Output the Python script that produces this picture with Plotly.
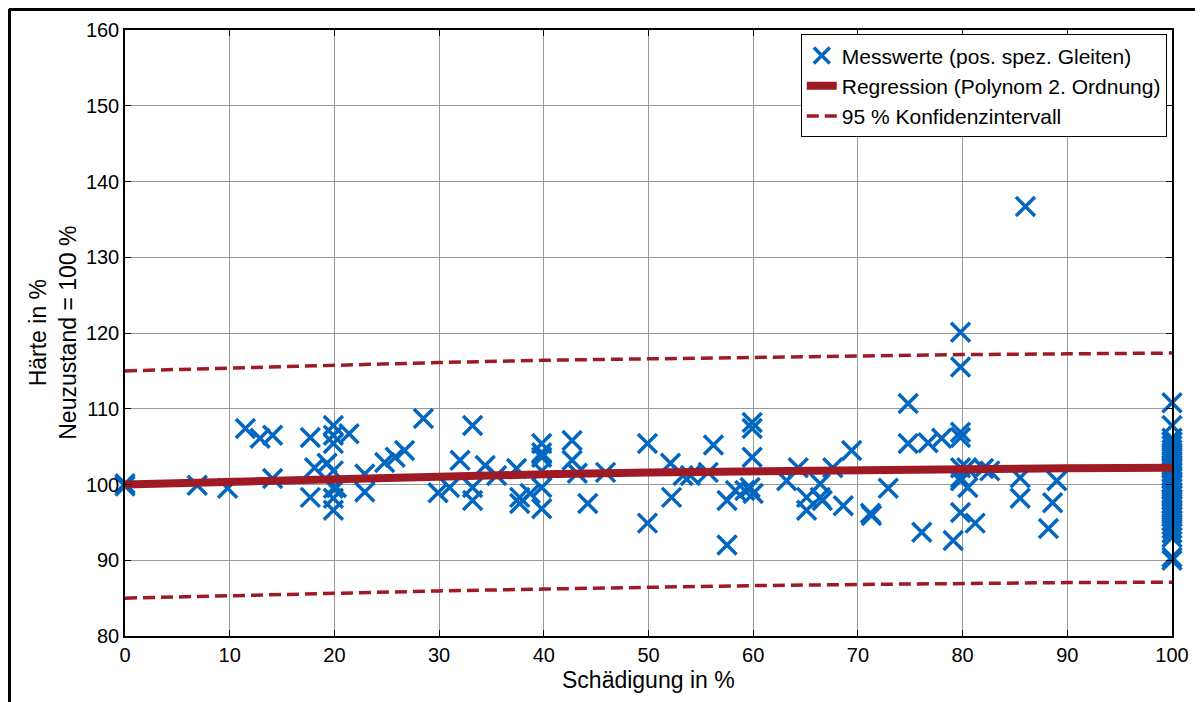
import plotly.graph_objects as go

# ---------------- data ----------------
meas_x = [0, 0, 6.9, 9.8, 11.5, 12.9, 14.1, 14.1, 17.7, 17.7, 18.1, 19.3, 19.9, 19.9, 19.9,
          19.9, 19.9, 19.9, 19.9, 20.2, 21.4, 22.9, 22.9, 24.8, 25.8, 26.7, 28.5,
          29.9, 31.0, 32.0, 33.2, 33.2, 33.2, 34.4, 35.5, 37.4, 37.7, 37.7, 38.7,
          39.8, 39.8, 39.8, 39.8, 39.8, 39.8, 42.7, 42.7, 43.2, 44.2, 45.9,
          49.9, 49.9, 52.1, 52.2, 53.3, 54.0, 55.7, 56.2, 57.5, 57.5, 58.3,
          59.9, 59.9, 59.9, 59.7, 60.0, 59.2,
          63.2, 64.3, 65.1, 65.1, 66.4, 66.4, 66.6, 67.6, 68.6, 69.4, 71.2, 71.3,
          72.9, 74.8, 74.8, 76.1, 76.7, 78.0, 79.1, 79.8, 79.8, 79.8, 79.8, 79.8,
          79.8, 79.8, 80.4, 80.5, 79.8, 81.2, 82.0, 82.6, 85.5, 85.5, 86.0, 88.2,
          88.6, 89.0]
meas_y = [100.1, 99.8, 99.9, 99.5, 107.4, 106.1, 106.5, 100.8, 106.2, 98.3, 102.2, 102.8, 107.8, 106.5, 105.4,
          101.8, 99.5, 98.2, 96.6, 99.6, 106.7, 101.4, 99.0, 102.9, 103.6, 104.5, 108.7,
          98.9, 99.6, 103.2, 107.8, 99.6, 97.9, 102.5, 101.2, 102.1, 98.3, 97.5, 98.8,
          105.4, 104.2, 103.6, 101.8, 99.6, 96.8, 105.8, 103.2, 101.5, 97.5, 101.6,
          105.4, 94.9, 102.8, 98.3, 101.2, 101.2, 101.6, 105.2, 92.0, 97.9, 99.2,
          108.2, 107.4, 103.6, 99.6, 98.8, 99.2,
          100.5, 102.2, 98.3, 96.6, 100.1, 98.3, 97.9, 102.2, 97.2, 104.5, 96.2, 95.9,
          99.5, 110.7, 105.4, 93.7, 105.5, 106.1, 92.6, 120.1, 115.5, 106.9, 106.2, 102.2,
          100.9, 100.5, 102.2, 99.6, 96.3, 94.9, 102.1, 101.8, 100.9, 98.2, 136.7, 94.2,
          97.6, 100.5]
# column at 100 % damage
meas100_y = [110.8, 107.8, 106.1, 105.6, 105.1, 104.6, 104.2, 103.7, 103.1, 102.6, 102.2,
             101.7, 101.2, 100.8, 100.3, 99.9, 99.4, 98.9, 98.5, 98.0, 97.5, 97.1, 96.6,
             96.1, 95.7, 95.2, 94.7, 94.2, 93.6, 93.0, 90.4, 90.0]

curve_x = [0, 10, 20, 30, 40, 50, 60, 70, 80, 90, 100]
reg_y = [100.0, 100.4, 100.8, 101.1, 101.35, 101.6, 101.8, 101.95, 102.05, 102.15, 102.2]
upper_y = [115.0, 115.4, 115.8, 116.1, 116.4, 116.6, 116.85, 117.0, 117.15, 117.25, 117.35]
lower_y = [85.0, 85.35, 85.7, 85.95, 86.2, 86.45, 86.65, 86.8, 86.95, 87.05, 87.1]

x_ticks = [0, 10, 20, 30, 40, 50, 60, 70, 80, 90, 100]
y_ticks = [80, 90, 100, 110, 120, 130, 140, 150, 160]

BLUE = "#0066C0"
RED = "#9E1A24"
FONT = "Liberation Sans, Arial, sans-serif"

all_x = meas_x + [100] * len(meas100_y)
all_y = meas_y + meas100_y

fig = go.Figure()
fig.add_trace(go.Scatter(
    x=all_x, y=all_y, mode="markers", name="Messwerte (pos. spez. Gleiten)",
    marker=dict(symbol="x-thin", size=19, color=BLUE, line=dict(color=BLUE, width=3.5)),
    cliponaxis=False))
fig.add_trace(go.Scatter(
    x=curve_x, y=reg_y, mode="lines", name="Regression (Polynom 2. Ordnung)",
    line=dict(color=RED, width=8)))
fig.add_trace(go.Scatter(
    x=curve_x, y=upper_y, mode="lines", name="95 % Konfidenzintervall",
    line=dict(color=RED, width=3.5, dash="12px,6px")))
fig.add_trace(go.Scatter(
    x=curve_x, y=lower_y, mode="lines", showlegend=False,
    line=dict(color=RED, width=3.5, dash="12px,6px")))

fig.update_layout(
    width=1195, height=694,
    margin=dict(l=117, r=31, t=22, b=66),
    paper_bgcolor="white", plot_bgcolor="white",
    font=dict(family=FONT, size=20, color="black"),
    showlegend=True,
    legend=dict(x=0.995, y=0.993, xanchor="right", yanchor="top",
                bgcolor="white", bordercolor="black", borderwidth=1,
                font=dict(size=21, family=FONT), tracegroupgap=0,
                itemwidth=30),
    xaxis=dict(range=[0, 100], tickvals=x_ticks, ticks="inside", ticklen=6,
               tickcolor="black", showline=True, linecolor="black", linewidth=1.5,
               mirror="ticks", showgrid=True, gridcolor="#999999", gridwidth=1,
               zeroline=False, tickfont=dict(size=20)),
    yaxis=dict(range=[80, 160], tickvals=y_ticks, ticks="inside", ticklen=6,
               tickcolor="black", showline=True, linecolor="black", linewidth=1.5,
               mirror="ticks", showgrid=True, gridcolor="#999999", gridwidth=1,
               zeroline=False, tickfont=dict(size=20)),
    annotations=[
        dict(text="Schädigung in %", x=0.5, y=-0.073, xref="paper", yref="paper",
             xanchor="center", yanchor="middle", showarrow=False,
             font=dict(size=23, family=FONT)),
        dict(text="Härte in %<br>Neuzustand = 100 %", x=-0.069, y=0.5,
             xref="paper", yref="paper", xanchor="center", yanchor="middle",
             textangle=-90, showarrow=False, font=dict(size=23, family=FONT)),
    ],
    shapes=[
        dict(type="line", xref="paper", yref="paper", x0=-0.1108, x1=1.03,
             y0=1.0347, y1=1.0347, line=dict(color="black", width=4)),
        dict(type="line", xref="paper", yref="paper", x0=-0.1108, x1=-0.1108,
             y0=1.0347, y1=-0.12, line=dict(color="black", width=4)),
    ],
)

fig.write_html("out.html")
